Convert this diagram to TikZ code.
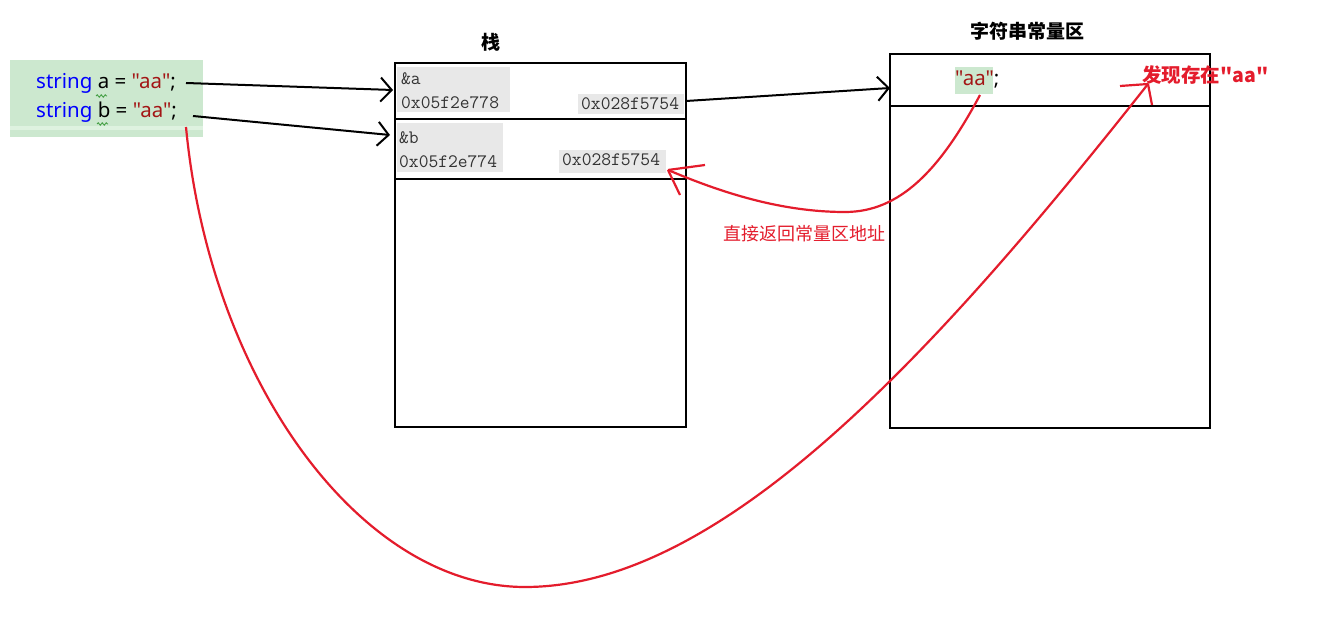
\documentclass[tikz,border=0pt]{standalone}
\usepackage{fontspec}
\setmainfont{Noto Sans}[Ligatures=TeXOff]
\newfontfamily\cjk{Noto Sans CJK SC}[Ligatures=TeXOff]
\usetikzlibrary{arrows.meta,decorations.pathmorphing}
\definecolor{codegreen}{RGB}{204,232,207}
\definecolor{codegreenlt}{RGB}{222,242,224}
\definecolor{kwblue}{RGB}{0,0,255}
\definecolor{strred}{RGB}{163,21,21}
\definecolor{lblgray}{RGB}{232,232,232}
\definecolor{penred}{RGB}{228,28,44}
\definecolor{squig}{RGB}{70,160,70}
\newcommand{\dq}{\symbol{34}}
\tikzset{
  boxline/.style={draw=black,line width=2.6pt},
  blackarrow/.style={draw=black,line width=2pt,-{Straight Barb[length=11pt,width=24pt,line width=2pt]}},
  redpen/.style={draw=penred,line width=2.2pt},
  codetext/.style={anchor=west,inner sep=0pt,font=\fontsize{20.5}{22}\selectfont},
  memtext/.style={anchor=west,inner sep=0pt,font=\ttfamily\fontsize{19}{20}\selectfont,text=black!80},
  titletext/.style={inner sep=0pt,font=\cjk\bfseries\fontsize{19}{21}\selectfont},
}
\begin{document}
\begin{tikzpicture}[x=1pt,y=-1pt]
\useasboundingbox (0,0) rectangle (1318,620);
\fill[white] (0,0) rectangle (1318,620);
% code panel
\fill[codegreen] (10,60) rectangle (203,137);
\fill[codegreenlt] (10,126) rectangle (203,130);
\node[codetext] (codeA) at (36,83) {\textcolor{kwblue}{string} a = \textcolor{strred}{\dq aa\dq};};
\node[codetext] (codeB) at (36,112) {\textcolor{kwblue}{string} b = \textcolor{strred}{\dq aa\dq};};
\draw[squig,line width=0.9pt,decorate,decoration={snake,segment length=4pt,amplitude=1.2pt}] (96,96) -- (107,96);
\draw[squig,line width=0.9pt,decorate,decoration={snake,segment length=4pt,amplitude=1.2pt}] (97,124) -- (108,124);
% stack
\node[titletext] (stackTitle) at (491,42) {栈};
\fill[lblgray] (397,67) rectangle (510,112);
\fill[lblgray] (578,94) rectangle (684,114);
\fill[lblgray] (397,123) rectangle (503,172);
\fill[lblgray] (559,150) rectangle (666,173);
\draw[boxline] (395,63) rectangle (686,427);
\draw[boxline] (395,119) -- (686,119);
\draw[boxline] (395,179) -- (686,179);
\node[memtext] (refA) at (401,79) {\&a};
\node[memtext] (addrA) at (401,103) {0x05f2e778};
\node[memtext] (valA) at (581,104) {0x028f5754};
\node[memtext] (refB) at (399,138) {\&b};
\node[memtext] (addrB) at (399,162) {0x05f2e774};
\node[memtext] (valB) at (562,160) {0x028f5754};
% constant area
\node[titletext] (constTitle) at (1027,31) {字符串常量区};
\draw[boxline] (890,54) rectangle (1210,428);
\draw[boxline] (890,106) -- (1210,106);
\fill[codegreen] (955,67) rectangle (993,94);
\node[codetext] (constAA) at (955,80) {\textcolor{strred}{\dq aa\dq};};
\node[inner sep=0pt,anchor=west,text=penred,font=\cjk\bfseries\fontsize{19.5}{21}\selectfont] (found) at (1142,75) {发现存在\dq aa\dq};
\node[inner sep=0pt,text=penred,font=\cjk\fontsize{18}{20}\selectfont] (retLabel) at (804,234) {直接返回常量区地址};
% connector endpoints
\coordinate (aStart) at (186,83);
\coordinate (bStart) at (193,116);
\coordinate (cellA) at (393,90);
\coordinate (cellB) at (390,135);
\coordinate (valAEnd) at (686,101);
\coordinate (constEntry) at (890,88);
\coordinate (aaBottom) at (980,95);
\coordinate (valBTip) at (668,170);
\coordinate (semiB) at (186,127);
\coordinate (foundTip) at (1148,84);
% black arrows
\draw[blackarrow] (aStart) -- (cellA);
\draw[blackarrow] (bStart) -- (cellB);
\draw[blackarrow] (valAEnd) -- (constEntry);
% red curves
\draw[redpen] (aaBottom) .. controls (940,170) and (900,212) .. (845,212)
   .. controls (780,212) and (720,192) .. (valBTip);
\draw[redpen] (valBTip) -- (705,165);
\draw[redpen] (valBTip) -- (680,195);
\draw[redpen] (semiB) .. controls (210,380) and (360,587) .. (525,587)
   .. controls (720,587) and (930,360) .. (foundTip);
\draw[redpen] (foundTip) -- (1120,86);
\draw[redpen] (foundTip) -- (1152,105);
\end{tikzpicture}
\end{document}
